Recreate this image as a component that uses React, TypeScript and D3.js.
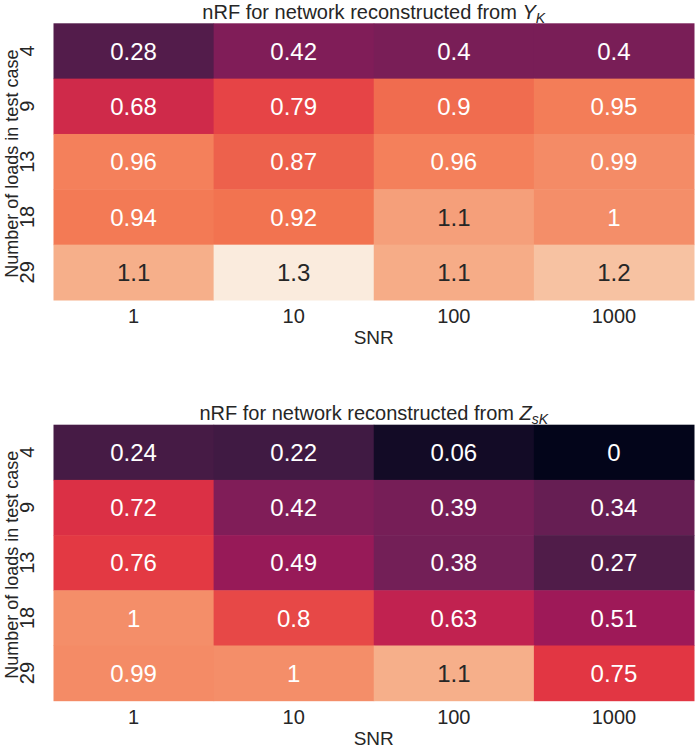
import React, { useEffect, useRef } from 'react';
import * as d3 from 'd3';

// SNR levels (columns) and number of loads (rows)
const snrLevels = ['1', '10', '100', '1000'];
const loadCounts = ['4', '9', '13', '18', '29'];

// nRF values, rows = loads, cols = SNR
const nrfY = [
    [0.28, 0.42, 0.40, 0.40],
    [0.68, 0.79, 0.90, 0.95],
    [0.96, 0.87, 0.96, 0.99],
    [0.94, 0.92, 1.05, 1.0],
    [1.1, 1.3, 1.09, 1.16],
];
const nrfZ = [
    [0.24, 0.22, 0.06, 0.0],
    [0.72, 0.42, 0.39, 0.34],
    [0.76, 0.49, 0.38, 0.27],
    [1.0, 0.8, 0.63, 0.51],
    [0.99, 1.0, 1.1, 0.75],
];

// seaborn "rocket" sampled
const rocket = ['#03051a', '#35193e', '#701f57', '#ad1759', '#e13342', '#f37651', '#f6b48f', '#faebdd'];
const vmin = 0;
const vmax = 1.3;

const FONT = '"Liberation Sans", Arial, sans-serif';
const INK = '#262626';

const W = 695;
const H = 748;

const luminance = (c: string) => {
    const rgb = d3.rgb(c);
    const lin = (v: number) => {
        const s = v / 255;
        return s <= 0.03928 ? s / 12.92 : Math.pow((s + 0.055) / 1.055, 2.4);
    };
    return 0.2126 * lin(rgb.r) + 0.7152 * lin(rgb.g) + 0.0722 * lin(rgb.b);
};

const App: React.FC = () => {
    const svgRef = useRef<SVGSVGElement>(null);

    useEffect(() => {
        if (!svgRef.current) return;
        const svg = d3.select(svgRef.current);
        svg.selectAll('*').remove();

        const color = d3.scaleLinear<string>()
            .domain(rocket.map((_, i) => vmin + (vmax - vmin) * i / (rocket.length - 1)))
            .range(rocket)
            .interpolate(d3.interpolateRgb)
            .clamp(true);

        const fmt = d3.format('.2~g');

        const x = d3.scaleBand<string>().domain(snrLevels).range([53.5, 694]).padding(0);

        const panels = [
            { data: nrfY, top: 23.3, bottom: 300, sym: 'Y', sub: 'K', titleY: 19 },
            { data: nrfZ, top: 424.7, bottom: 700.7, sym: 'Z', sub: 'sK', titleY: 420 },
        ];

        panels.forEach((p) => {
            const y = d3.scaleBand<string>().domain(loadCounts).range([p.top, p.bottom]).padding(0);
            const g = svg.append('g');

            const cells = loadCounts.flatMap((l, ri) =>
                snrLevels.map((s, ci) => ({ load: l, snr: s, value: p.data[ri][ci] }))
            );

            g.selectAll('rect.cell')
                .data(cells)
                .enter()
                .append('rect')
                .attr('class', 'cell')
                .attr('x', (d) => x(d.snr)!)
                .attr('y', (d) => y(d.load)!)
                .attr('width', x.bandwidth() + 0.5)
                .attr('height', y.bandwidth() + 0.5)
                .attr('fill', (d) => color(d.value));

            g.selectAll('text.annot')
                .data(cells)
                .enter()
                .append('text')
                .attr('class', 'annot')
                .attr('x', (d) => x(d.snr)! + x.bandwidth() / 2)
                .attr('y', (d) => y(d.load)! + y.bandwidth() / 2)
                .attr('dy', '0.36em')
                .attr('text-anchor', 'middle')
                .style('font-family', FONT)
                .style('font-size', '24px')
                .style('fill', (d) => (luminance(color(d.value)) > 0.408 ? INK : '#ffffff'))
                .text((d) => fmt(d.value));

            // x tick labels
            g.selectAll('text.xtick')
                .data(snrLevels)
                .enter()
                .append('text')
                .attr('class', 'xtick')
                .attr('x', (d) => x(d)! + x.bandwidth() / 2)
                .attr('y', p.bottom + 23)
                .attr('text-anchor', 'middle')
                .style('font-family', FONT)
                .style('font-size', '20px')
                .style('fill', INK)
                .text((d) => d);

            g.append('text')
                .attr('x', (53.5 + 694) / 2)
                .attr('y', p.bottom + 44)
                .attr('text-anchor', 'middle')
                .style('font-family', FONT)
                .style('font-size', '19px')
                .style('fill', INK)
                .text('SNR');

            // y tick labels, rotated
            g.selectAll('text.ytick')
                .data(loadCounts)
                .enter()
                .append('text')
                .attr('class', 'ytick')
                .attr('transform', (d) => `translate(33.5,${y(d)! + y.bandwidth() / 2}) rotate(-90)`)
                .attr('text-anchor', 'middle')
                .style('font-family', FONT)
                .style('font-size', '20px')
                .style('fill', INK)
                .text((d) => d);

            g.append('text')
                .attr('transform', `translate(18,${(p.top + p.bottom) / 2 + 2}) rotate(-90)`)
                .attr('text-anchor', 'middle')
                .style('font-family', FONT)
                .style('font-size', '18px')
                .style('fill', INK)
                .text('Number of loads in test case');

            // title with math-style symbol
            const title = g.append('text')
                .attr('x', (53.5 + 694) / 2)
                .attr('y', p.titleY)
                .attr('text-anchor', 'middle')
                .style('font-family', FONT)
                .style('font-size', '20px')
                .style('fill', INK);
            title.append('tspan').text('nRF for network reconstructed from ');
            title.append('tspan').style('font-style', 'italic').text(p.sym);
            title.append('tspan')
                .style('font-style', 'italic')
                .style('font-size', '14px')
                .attr('dy', 4)
                .text(p.sub);
        });
    }, []);

    return (
        <svg
            ref={svgRef}
            width={W}
            height={H}
            style={{ position: 'absolute', left: 0, top: 0, background: '#ffffff' }}
        />
    );
};

export default App;
